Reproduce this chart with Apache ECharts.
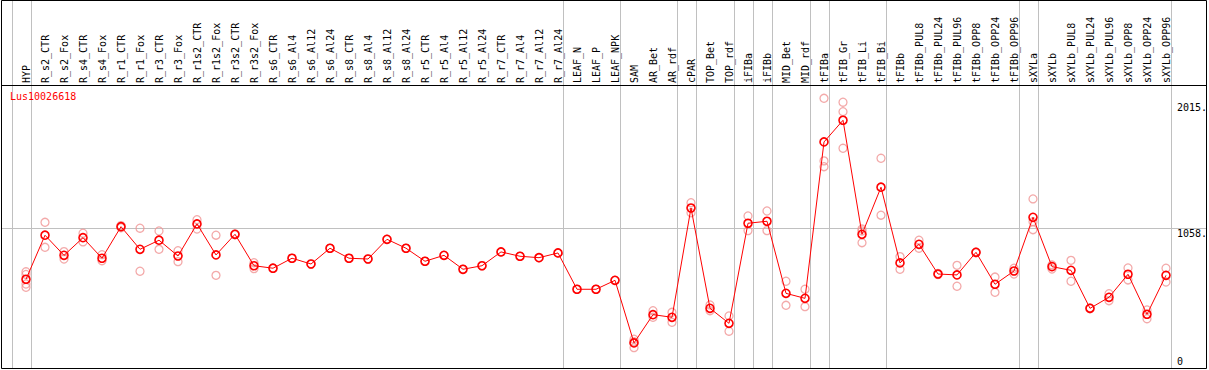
<!DOCTYPE html>
<html><head><meta charset="utf-8">
<script src="https://cdn.jsdelivr.net/npm/echarts@6/dist/echarts.min.js"></script>
<style>html,body{margin:0;padding:0;background:#fff}#c{width:1209px;height:370px}</style>
</head><body><div id="c"></div>
<script>
const chartTitle = 'Lus10026618';
const categories = ['HYP','R_s2_CTR','R_s2_Fox','R_s4_CTR','R_s4_Fox','R_r1_CTR','R_r1_Fox','R_r3_CTR','R_r3_Fox','R_r1s2_CTR','R_r1s2_Fox','R_r3s2_CTR','R_r3s2_Fox','R_s6_CTR','R_s6_Al4','R_s6_Al12','R_s6_Al24','R_s8_CTR','R_s8_Al4','R_s8_Al12','R_s8_Al24','R_r5_CTR','R_r5_Al4','R_r5_Al12','R_r5_Al24','R_r7_CTR','R_r7_Al4','R_r7_Al12','R_r7_Al24','LEAF_N','LEAF_P','LEAF_NPK','SAM','AR_Bet','AR_rdf','cPAR','TOP_Bet','TOP_rdf','iFIBa','iFIBb','MID_Bet','MID_rdf','tFIBa','tFIB_Gr','tFIB_Li','tFIB_Bi','tFIBb','tFIBb_PUL8','tFIBb_PUL24','tFIBb_PUL96','tFIBb_OPP8','tFIBb_OPP24','tFIBb_OPP96','sXYLa','sXYLb','sXYLb_PUL8','sXYLb_PUL24','sXYLb_PUL96','sXYLb_OPP8','sXYLb_OPP24','sXYLb_OPP96'];
const means = [670,1005,852,986,830,1070,898,967,847,1091,855,1012,773,754,830,786,906,830,824,974,906,807,852,746,773,878,845,834,870,594,594,662,186,401,381,1212,449,335,1096,1111,563,525,1714,1879,1012,1370,794,936,710,703,875,632,733,1141,766,738,449,533,708,404,700];
const replicates = [[727,707,634,609],[1103,913],[880,824],[1020,954],[857,811],[1078,1062],[1058,731],[1037,898],[887,804],[1123,1052],[1005,700],[1015,1009],[796,751],[754],[830],[786],[906],[830],[824],[974],[906],[807],[852],[746],[773],[878],[845],[834],[870],[594],[594],[662],[214,195,150],[431,381],[419,343],[1252,1176],[475,431],[391,275],[1151,1040],[1189,1040],[655,472],[594,462],[2046,1570,1526],[2016,1944,1666],[1037,1052,948],[1590,1157],[842,746],[967,906],[714,706],[776,617],[878,872],[687,571],[754,710],[1281,1108,1047],[779,748],[814,655],[452,446],[560,507],[756,665],[437,370],[754,649]];
const yTicks = [0, 1058, 2015];
const yTickLabels = ['0', '1058.', '2015.'];
const yGridValues = [1058];
const groupEnds = [-1, 0, 28, 31, 34, 35, 37, 38, 39, 41, 42, 45, 52, 53, 60];

const repData = [];
replicates.forEach((reps, i) => reps.forEach(v => repData.push([i, v])));

const FONT = '"DejaVu Sans Mono", monospace';
const chart = echarts.init(document.getElementById('c'), null, {renderer: 'svg'});
chart.setOption({
  animation: false,
  backgroundColor: '#fff',
  title: {text: chartTitle, left: 10, top: 91, padding: 0,
    textStyle: {color: '#ff0000', fontFamily: FONT, fontSize: 10, fontWeight: 'normal'}},
  grid: {left: 26, right: 43, top: 85, bottom: 2.6, containLabel: false},
  xAxis: [{
    type: 'category', data: categories, position: 'top', boundaryGap: false,
    axisLine: {show: false}, axisTick: {show: false}, splitLine: {show: false},
    axisLabel: {rotate: 90, interval: 0, margin: 2, color: '#000', fontFamily: FONT, fontSize: 10}
  }, {
    type: 'value', min: 0, max: categories.length - 1, show: false
  }],
  yAxis: [{type: 'value', min: 0, max: 2147, show: false}],
  graphic: [
    {type: 'rect', shape: {x: 1.5, y: 0.5, width: 1205, height: 368}, style: {fill: 'none', stroke: '#000', lineWidth: 1}, z: 100},
    {type: 'line', shape: {x1: 1.5, y1: 85.5, x2: 1206.5, y2: 85.5}, style: {stroke: '#000', lineWidth: 1}, z: 100}
  ],
  series: [
    {
      type: 'custom', xAxisIndex: 1, yAxisIndex: 0, z: 1, silent: true,
      data: groupEnds.map(g => [g]),
      renderItem: (params, api) => {
        const x = Math.round(api.coord([api.value(0), 0])[0] + 5) + 0.5;
        return {type: 'line', shape: {x1: x, y1: 0, x2: x, y2: 368}, style: {stroke: '#c0c0c0', lineWidth: 1}};
      }
    },
    {
      type: 'custom', xAxisIndex: 1, yAxisIndex: 0, z: 1, silent: true,
      data: yGridValues.map(v => [0, v]),
      renderItem: (params, api) => {
        const y = Math.round(api.coord([0, api.value(1)])[1]) + 0.5;
        return {type: 'line', shape: {x1: 1.5, y1: y, x2: 1206.5, y2: y}, style: {stroke: '#c0c0c0', lineWidth: 1}};
      }
    },
    {
      type: 'custom', xAxisIndex: 1, yAxisIndex: 0, z: 5, silent: true,
      data: yTicks.map((v, i) => [categories.length - 1, v, i]),
      renderItem: (params, api) => {
        const p = api.coord([api.value(0), api.value(1)]);
        const v = api.value(1);
        return {type: 'text', style: {text: yTickLabels[api.value(2)], x: p[0] + 11, y: v === 0 ? p[1] - 1 : p[1],
          align: 'left', verticalAlign: v === 0 ? 'bottom' : 'top', font: '10px ' + FONT, fill: '#000'}};
      }
    },
    {
      type: 'scatter', data: repData, z: 2, silent: true,
      symbol: 'circle', symbolSize: 8,
      itemStyle: {color: 'rgba(0,0,0,0)', borderColor: '#f09595', borderWidth: 1.3}
    },
    {
      type: 'line', data: means, z: 3, silent: true,
      symbol: 'circle', symbolSize: 8, showSymbol: true,
      lineStyle: {color: '#ff0000', width: 1},
      itemStyle: {color: 'rgba(0,0,0,0)', borderColor: '#ff0000', borderWidth: 1.6}
    }
  ]
});
</script></body></html>
